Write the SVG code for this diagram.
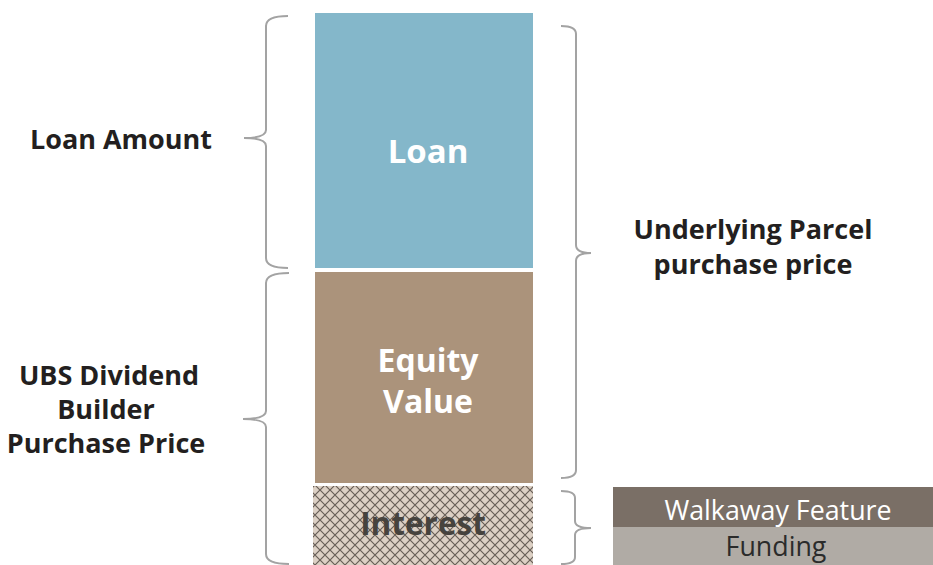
<svg xmlns="http://www.w3.org/2000/svg" width="933" height="565" viewBox="0 0 933 565">
<style>
.lbl{font-family:"Open Sans","Noto Sans","Liberation Sans",sans-serif;font-weight:bold;fill:#231f20;font-size:27px;text-anchor:middle}
.box{font-family:"Open Sans","Noto Sans","Liberation Sans",sans-serif;font-weight:bold;fill:#ffffff;text-anchor:middle}
.thin{font-family:"Open Sans","Noto Sans","Liberation Sans",sans-serif;font-size:26.8px;text-anchor:middle}
.brace{fill:none;stroke:#a3a3a3;stroke-width:2}
</style>
<defs>
<pattern id="hatch" width="10" height="10" patternUnits="userSpaceOnUse">
<rect width="10" height="10" fill="#dcd0c4"/>
<path d="M0,0 L10,10 M10,0 L0,10" stroke="#675e56" stroke-width="1.2"/>
</pattern>
</defs>
<rect width="933" height="565" fill="#ffffff"/>
<g id="loan">
<rect x="315" y="13" width="218" height="255" fill="#84b7ca"/>
<text class="box" x="428" y="163" font-size="33">Loan</text>
</g>
<g id="equity">
<rect x="315" y="272" width="218" height="211" fill="#ab937b"/>
<text class="box" x="428" y="372" font-size="32">Equity</text>
<text class="box" x="428" y="413" font-size="32">Value</text>
</g>
<g id="interest">
<rect x="313" y="486" width="220" height="79" fill="url(#hatch)"/>
<text class="box" x="423" y="535" font-size="31.5" style="fill:#46433e">Interest</text>
</g>
<g id="walkaway">
<rect x="613" y="487" width="320" height="40" fill="#7a6f66"/>
<text class="thin" x="778" y="520" fill="#ffffff">Walkaway Feature</text>
</g>
<g id="funding">
<rect x="613" y="527" width="320" height="38" fill="#b0aba5"/>
<text class="thin" x="776" y="556" fill="#2b2b2b">Funding</text>
</g>
<g id="loan-amount">
<text class="lbl" x="121" y="149">Loan Amount</text>
</g>
<g id="purchase-price">
<text class="lbl" x="109" y="385">UBS Dividend</text>
<text class="lbl" x="106" y="419">Builder</text>
<text class="lbl" x="106" y="453">Purchase Price</text>
</g>
<g id="underlying">
<text class="lbl" x="753" y="239">Underlying Parcel</text>
<text class="lbl" x="753" y="274">purchase price</text>
</g>
<g id="connectors">
<path class="brace" d="M288,16 Q266,16 266,26 L266,130 Q266,138 244,138 Q266,138 266,146 L266,258 Q266,268 288,268"/>
<path class="brace" d="M289,273 Q266,273 266,283 L266,411 Q266,419 243,419 Q266,419 266,427 L266,554 Q266,564 289,564"/>
<path class="brace" d="M561,26 Q576,26 576,34 L576,245 Q576,253 591,253 Q576,253 576,261 L576,470 Q576,478 561,478"/>
<path class="brace" d="M561,491 Q575,491 575,498 L575,521 Q575,528 591,528 Q575,528 575,535 L575,557 Q575,564 561,564"/>
</g>
</svg>
